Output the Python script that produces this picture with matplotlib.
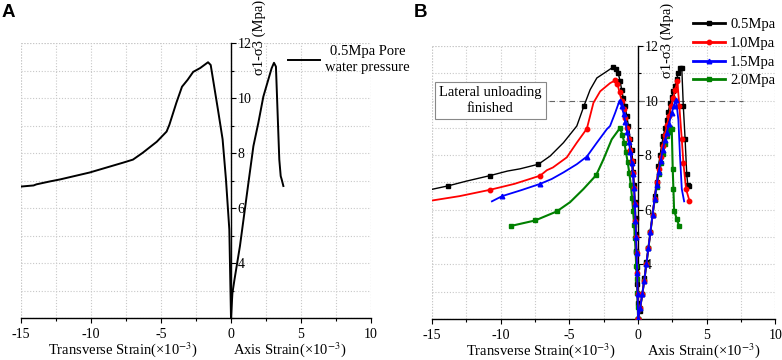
import matplotlib
matplotlib.use("Agg")
import matplotlib.pyplot as plt
from matplotlib.ticker import MultipleLocator, FixedLocator

plt.rcParams['font.family'] = ['Liberation Serif', 'DejaVu Serif']
plt.rcParams['mathtext.fontset'] = 'stix'
plt.rcParams['axes.unicode_minus'] = False

# ---------------- data: panel A (0.5 MPa pore water pressure) ----------------
a_trans_x = [-15.0, -14.1, -13.9, -12.9, -12.2, -10.1, -7.7, -7.0, -6.3, -5.3, -4.6, -4.4,
             -3.9, -3.5, -3.1, -2.7, -2.2, -1.64, -1.45, -0.93, -0.6, -0.36, -0.12, 0.0]
a_trans_y = [6.78, 6.82, 6.86, 6.97, 7.04, 7.29, 7.65, 7.76, 8.01, 8.41, 8.78, 9.03,
             9.83, 10.41, 10.66, 10.95, 11.09, 11.3, 11.2, 9.57, 8.5, 7.04, 5.22, 2.0]
a_axial_x = [0.0, 0.1, 0.24, 0.64, 1.24, 1.6, 1.95, 2.31, 2.66, 2.9, 3.07, 3.21,
             3.38, 3.45, 3.55, 3.62, 3.74]
a_axial_y = [2.0, 2.9, 3.37, 4.62, 6.9, 8.25, 9.09, 10.05, 10.66, 11.08, 11.28, 11.14,
             8.73, 7.76, 7.16, 7.04, 6.8]
a_label = "0.5Mpa Pore\nwater pressure"

# ---------------- data: panel B ----------------
series_labels = ["0.5Mpa", "1.0Mpa", "1.5Mpa", "2.0Mpa"]

b05_trans_x = [-15.0, -13.8, -12.5, -10.8, -9.5, -8.6, -7.25, -6.4, -5.43, -4.46, -3.93, -3.49,
               -3.0, -2.28, -1.84, -1.6, -1.45, -1.3, -1.2, -1.08, -0.95, -0.83, -0.7, -0.58,
               -0.46, -0.4, -0.34, -0.28, -0.22, -0.18, -0.15, -0.12, -0.1, -0.06, -0.03, 0.0]
b05_trans_y = [6.75, 6.88, 7.05, 7.25, 7.42, 7.5, 7.67, 7.97, 8.46, 9.07, 9.82, 10.4,
               10.83, 11.07, 11.22, 11.15, 11.0, 10.7, 10.4, 10.1, 9.8, 9.45, 9.07, 8.6,
               8.2, 7.8, 7.4, 6.9, 6.3, 5.7, 5.1, 4.5, 3.9, 3.3, 2.6, 2.0]
b05_axial_x = [0.0, 0.15, 0.3, 0.45, 0.6, 0.75, 0.9, 1.05, 1.2, 1.35, 1.48, 1.6, 1.72, 1.84,
               1.96, 2.08, 2.2, 2.33, 2.45, 2.57, 2.69, 2.81, 2.93, 3.05, 3.18, 3.29, 3.42,
               3.54, 3.62, 3.7]
b05_axial_y = [2.0, 2.3, 2.9, 3.5, 4.1, 4.6, 5.2, 5.8, 6.5, 7.0, 7.6, 8.0, 8.4, 8.7,
               9.0, 9.3, 9.6, 9.9, 10.15, 10.35, 10.55, 10.8, 11.0, 11.2, 11.19, 9.8, 8.6,
               7.3, 6.9, 6.88]

b10_trans_x = [-15.0, -13.0, -10.8, -9.0, -7.13, -6.64, -6.2, -5.19, -4.46, -3.73, -3.25, -2.76,
               -2.04, -1.67, -1.5, -1.35, -1.2, -1.05, -0.92, -0.8, -0.68, -0.56, -0.46, -0.38,
               -0.3, -0.24, -0.19, -0.15, -0.11, -0.07, -0.03, 0.0]
b10_trans_y = [6.34, 6.5, 6.73, 6.95, 7.25, 7.45, 7.55, 7.92, 8.46, 8.97, 9.92, 10.34,
               10.64, 10.74, 10.6, 10.3, 10.0, 9.7, 9.35, 9.0, 8.6, 8.2, 7.8, 7.35,
               6.8, 6.2, 5.6, 5.0, 4.4, 3.7, 2.9, 2.0]
b10_axial_x = [0.0, 0.15, 0.3, 0.45, 0.6, 0.75, 0.9, 1.05, 1.2, 1.35, 1.5, 1.65, 1.8, 1.95,
               2.1, 2.25, 2.4, 2.55, 2.7, 2.86, 3.0, 3.18, 3.3, 3.49, 3.73]
b10_axial_y = [2.0, 2.4, 2.9, 3.4, 4.0, 4.6, 5.2, 5.8, 6.4, 7.0, 7.5, 7.95, 8.35, 8.75,
               9.1, 9.45, 9.8, 10.1, 10.4, 10.7, 9.8, 8.58, 7.7, 6.76, 6.34]

b15_trans_x = [-10.64, -9.9, -8.5, -7.13, -6.28, -5.43, -4.46, -3.73, -3.0, -2.28, -2.04, -1.67,
               -1.35, -1.2, -1.05, -0.92, -0.8, -0.68, -0.56, -0.46, -0.38, -0.3, -0.24, -0.19,
               -0.15, -0.11, -0.07, -0.03, 0.0]
b15_trans_y = [6.31, 6.5, 6.72, 6.95, 7.13, 7.37, 7.67, 7.95, 8.46, 8.95, 9.07, 9.55,
               10.0, 9.8, 9.5, 9.2, 8.85, 8.5, 8.1, 7.7, 7.3, 6.8, 6.2, 5.6,
               5.0, 4.4, 3.7, 2.9, 2.0]
b15_axial_x = [0.0, 0.15, 0.3, 0.45, 0.6, 0.75, 0.9, 1.05, 1.2, 1.35, 1.5, 1.65, 1.8, 1.95,
               2.09, 2.25, 2.45, 2.6, 2.76, 2.93, 3.05, 3.18, 3.35]
b15_axial_y = [2.0, 2.4, 2.9, 3.4, 4.0, 4.6, 5.2, 5.8, 6.4, 6.9, 7.4, 7.8, 8.2, 8.55,
               8.82, 9.15, 9.55, 9.8, 10.04, 9.3, 7.97, 6.76, 6.31]

b20_trans_x = [-9.24, -7.49, -5.92, -4.95, -3.98, -3.05, -2.52, -1.92, -1.31, -1.15, -1.0, -0.88,
               -0.76, -0.64, -0.53, -0.44, -0.36, -0.29, -0.23, -0.18, -0.14, -0.1, -0.06, -0.03, 0.0]
b20_trans_y = [5.41, 5.61, 5.94, 6.28, 6.76, 7.27, 7.85, 8.58, 9.0, 8.75, 8.45, 8.1,
               7.75, 7.35, 6.9, 6.45, 5.95, 5.45, 4.95, 4.45, 3.95, 3.45, 2.95, 2.45, 2.0]
b20_axial_x = [0.0, 0.15, 0.3, 0.45, 0.6, 0.75, 0.9, 1.05, 1.2, 1.35, 1.5, 1.65, 1.8, 1.95,
               2.1, 2.2, 2.33, 2.45, 2.52, 2.57, 2.62, 2.81, 2.98]
b20_axial_y = [2.0, 2.4, 2.9, 3.4, 4.0, 4.6, 5.2, 5.8, 6.35, 6.85, 7.3, 7.7, 8.05, 8.4,
               8.7, 8.85, 9.0, 8.95, 7.49, 6.76, 5.97, 5.67, 5.41]

unload_level = 10.0
unload_text = "Lateral unloading\nfinished"

# ---------------- figure ----------------
W, H = 782, 360
fig = plt.figure(figsize=(W / 100, H / 100), dpi=100)

grid_kw = dict(color='#c8c8c8', linestyle=(0, (1, 1.6)), linewidth=0.8)


def style_axes(ax):
    ax.set_xlim(-15, 10)
    ax.set_ylim(2, 12)
    ax.spines['top'].set_visible(False)
    ax.spines['left'].set_visible(False)
    ax.spines['right'].set_position(('data', 0))
    ax.spines['right'].set_linewidth(1.0)
    ax.spines['bottom'].set_linewidth(1.0)
    ax.yaxis.set_ticks_position('right')
    ax.xaxis.set_major_locator(MultipleLocator(5))
    ax.xaxis.set_minor_locator(MultipleLocator(2.5))
    ax.yaxis.set_major_locator(FixedLocator([4, 6, 8, 10, 12]))
    ax.yaxis.set_minor_locator(FixedLocator([2, 3, 5, 7, 9, 11]))
    ax.tick_params(axis='both', which='major', direction='out', length=3.6, width=0.8,
                   labelsize=10, pad=3.5)
    ax.tick_params(axis='both', which='minor', direction='out', length=2.2, width=0.8)
    ax.tick_params(axis='y', pad=1)
    ax.grid(True, which='both', **grid_kw)
    ax.set_axisbelow(True)
    # outer grid frame lines (top and right edges)
    ax.axhline(12, **grid_kw, zorder=0)
    ax.axvline(10, **grid_kw, zorder=0)
    ax.axvline(-15, **grid_kw, zorder=0)


def add_labels(ax, tx, axx, ylx, ty):
    ax.text(tx, ty, "Transverse Strain(×10$^{-3}$)", transform=ax.get_xaxis_transform(),
            ha='center', va='center', fontsize=10.5)
    ax.text(axx, ty, "Axis Strain(×10$^{-3}$)", transform=ax.get_xaxis_transform(),
            ha='center', va='center', fontsize=10.5)
    ax.text(ylx, 1.02, "σ1-σ3 (Mpa)", transform=ax.get_xaxis_transform(),
            rotation=90, ha='center', va='center', fontsize=10.5)


# ---------------- panel A ----------------
axA = fig.add_axes([21 / W, 1 - 318 / H, 350 / W, 275 / H])
style_axes(axA)
axA.plot(a_trans_x, a_trans_y, color='black', lw=1.4, label=a_label)
axA.plot(a_axial_x, a_axial_y, color='black', lw=1.4)
add_labels(axA, -7.7, 4.2, 2.0, ty=-0.116)
legA = axA.legend(loc='upper left', bbox_to_anchor=(288 / W, 1 - 45 / H),
                  bbox_transform=fig.transFigure, frameon=False, fontsize=10.5,
                  handlelength=2.2, handletextpad=0.35, borderpad=0, borderaxespad=0,
                  labelspacing=0.2)
for t in legA.get_texts():
    t.set_multialignment('center')
    t.set_linespacing(1.35)

# ---------------- panel B ----------------
axB = fig.add_axes([432 / W, 1 - 319 / H, 343.5 / W, 273 / H])
style_axes(axB)

specs = [
    (b05_trans_x, b05_trans_y, b05_axial_x, b05_axial_y, 'black', 's', 2.8, 1.0, 2,
     [1, 3, 6, 10, 14] + list(range(15, 36)), 'all'),
    (b10_trans_x, b10_trans_y, b10_axial_x, b10_axial_y, '#ff0000', 'o', 3.2, 1.3, 4,
     [2, 4, 9, 13] + list(range(14, 32)), 'all'),
    (b15_trans_x, b15_trans_y, b15_axial_x, b15_axial_y, '#0000ff', '^', 3.3, 1.3, 5,
     [1, 3, 7, 12] + list(range(13, 29)), 'blue'),
    (b20_trans_x, b20_trans_y, b20_axial_x, b20_axial_y, '#008000', 's', 3.0, 1.5, 3,
     [0, 1, 2, 5, 8] + list(range(9, 25)), 'all'),
]
handles = []
for (tx, ty, axx, axy, col, mk, ms, lw, z, mev, mode), lab in zip(specs, series_labels):
    h, = axB.plot(tx, ty, color=col, lw=lw, marker=mk, ms=ms, markevery=mev,
                  zorder=z, label=lab)
    if mode == 'blue':
        mev_ax = list(range(0, 19))
    else:
        mev_ax = list(range(len(axx)))
    axB.plot(axx, axy, color=col, lw=lw, marker=mk, ms=ms, markevery=mev_ax, zorder=z)
    handles.append(h)

axB.plot([-6.5, 7.6], [unload_level, unload_level], color='#666666', lw=0.8,
         linestyle=(0, (5, 4)), zorder=1)
axB.text(-10.76, 10.0, unload_text, ha='center', va='center', fontsize=10.5,
         multialignment='center', linespacing=1.3,
         bbox=dict(boxstyle='square,pad=0.3', facecolor='white', edgecolor='#888888',
                   linewidth=0.8), zorder=6)
add_labels(axB, -7.1, 4.75, 2.1, ty=-0.116)

legB = axB.legend(handles=handles, loc='upper left', bbox_to_anchor=(693 / W, 1 - 18 / H),
                  bbox_transform=fig.transFigure, frameon=False, fontsize=10.5,
                  handlelength=2.2, handletextpad=0.35, borderpad=0, borderaxespad=0,
                  labelspacing=0.38)
for line in legB.get_lines():
    line.set_linewidth(2.0)

# panel letters
fig.text(2 / W, 1 - 4 / H, "A", fontsize=13.5, fontweight='bold', family='Liberation Sans',
         ha='left', va='top')
fig.text(414 / W, 1 - 4 / H, "B", fontsize=13.5, fontweight='bold', family='Liberation Sans',
         ha='left', va='top')

fig.savefig("out.png", dpi=100)
